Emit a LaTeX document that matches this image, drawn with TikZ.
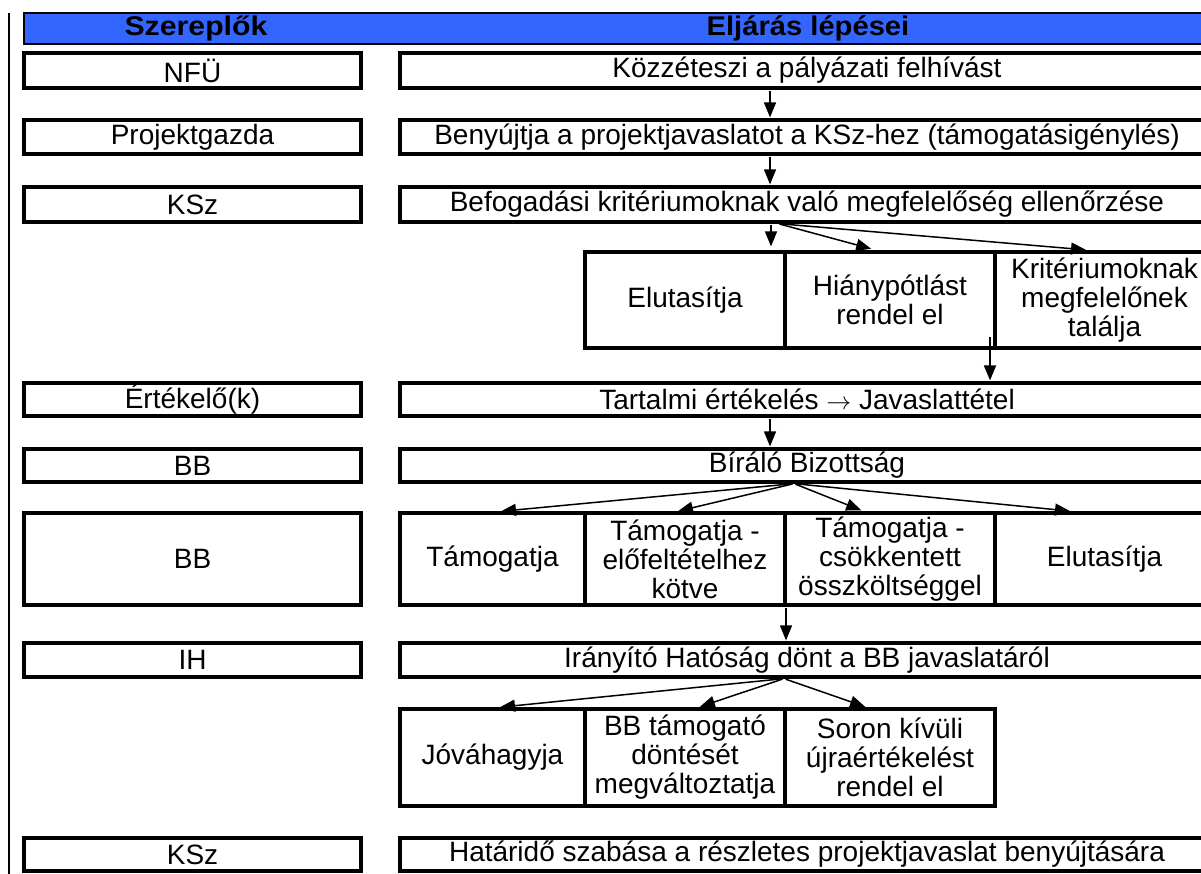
\documentclass[tikz,border=0pt]{standalone}
\usepackage{fontspec}
\setmainfont{Liberation Sans}
\usetikzlibrary{arrows.meta}
\definecolor{hdrblue}{RGB}{51,102,255}
\tikzset{
  bx/.style={draw=black, line width=3.2pt, fill=white, inner sep=0pt, align=center,
             font=\fontsize{28}{29}\selectfont},
  lbox/.style={bx, minimum width=337pt},
  rbox/.style={bx, minimum width=814pt},
  hdrtext/.style={inner sep=0pt, font=\fontsize{27}{28}\selectfont\bfseries},
  arr/.style={line width=1.5pt, -{Triangle[length=15pt,width=12pt]}},
}
\begin{document}
\begin{tikzpicture}[x=1pt,y=-1pt]
\useasboundingbox (0,0) rectangle (1201,873);
% left frame line
\draw[line width=2.2pt] (9,13) -- (9,880);
% header
\node[draw=black, line width=2.8pt, fill=hdrblue, minimum width=1190pt, minimum height=31pt, inner sep=0pt] (hdr) at (619,28.5) {};
\node[hdrtext] (h1) at (196,28.5) {\scalebox{1.12}[1]{Szereplők}};
\node[hdrtext] (h2) at (808,28.5) {\scalebox{1.08}[1]{Eljárás lépései}};
% left column
\node[lbox, minimum height=35pt] (l1) at (192.5,70.5) {NFÜ};
\node[lbox, minimum height=34pt] (l2) at (192.5,137) {Projektgazda};
\node[lbox, minimum height=35pt] (l3) at (192.5,204.5) {KSz};
\node[lbox, minimum height=33pt] (l4) at (192.5,399.5) {Értékelő(k)};
\node[lbox, minimum height=33pt] (l5) at (192.5,465.5) {BB};
\node[lbox, minimum height=92pt] (l6) at (192.5,559) {BB};
\node[lbox, minimum height=34pt] (l7) at (192.5,660) {IH};
\node[lbox, minimum height=33pt] (l8) at (192.5,854.5) {KSz};
% right column
\node[rbox, minimum height=35pt] (r1) at (807,70.5) {Közzéteszi a pályázati felhívást};
\node[rbox, minimum height=34pt] (r2) at (807,137) {Benyújtja a projektjavaslatot a KSz-hez (támogatásigénylés)};
\node[rbox, minimum height=35pt] (r3) at (807,204.5) {Befogadási kritériumoknak való megfelelőség ellenőrzése};
\node[bx, minimum width=200pt, minimum height=96pt] (s1) at (685,300) {Elutasítja};
\node[bx, minimum width=210pt, minimum height=96pt] (s2) at (890,300) {Hiánypótlást\\rendel el};
\node[bx, minimum width=219pt, minimum height=96pt] (s3) at (1104.5,300) {Kritériumoknak\\megfelelőnek\\találja};
\node[rbox, minimum height=33pt] (r4) at (807,399.5) {Tartalmi értékelés $\rightarrow$ Javaslattétel};
\node[rbox, minimum height=33pt] (r5) at (807,465.5) {Bíráló Bizottság};
\node[bx, minimum width=185pt, minimum height=92pt] (b1) at (492.5,559) {Támogatja};
\node[bx, minimum width=200pt, minimum height=92pt] (b2) at (685,559) {Támogatja -\\előfeltételhez\\kötve};
\node[bx, minimum width=210pt, minimum height=92pt] (b3) at (890,559) {Támogatja -\\csökkentett\\összköltséggel};
\node[bx, minimum width=219pt, minimum height=92pt] (b4) at (1104.5,559) {Elutasítja};
\node[rbox, minimum height=34pt] (r6) at (807,660) {Irányító Hatóság dönt a BB javaslatáról};
\node[bx, minimum width=185pt, minimum height=97pt] (i1) at (492.5,757.5) {Jóváhagyja};
\node[bx, minimum width=200pt, minimum height=97pt] (i2) at (685,757.5) {BB támogató\\döntését\\megváltoztatja};
\node[bx, minimum width=210pt, minimum height=97pt] (i3) at (890,757.5) {Soron kívüli\\újraértékelést\\rendel el};
\node[rbox, minimum height=33pt] (r7) at (807,854.5) {Határidő szabása a részletes projektjavaslat benyújtására};
% x positions for connectors
\coordinate (xa) at (770,0);
\coordinate (xk) at (771,0);
\coordinate (xko) at (778,0);
\coordinate (xk2) at (877,0);
\coordinate (xk3) at (1092,0);
\coordinate (xc) at (990,0);
\coordinate (xbo) at (794,0);
\coordinate (xb1) at (500,0);
\coordinate (xb2) at (677,0);
\coordinate (xb3) at (864,0);
\coordinate (xb4) at (1073,0);
\coordinate (xd) at (786,0);
\coordinate (xio) at (784,0);
\coordinate (xi1) at (498,0);
\coordinate (xi2) at (698,0);
\coordinate (xi3) at (867,0);
% connectors
\draw[arr, shorten <=1.6pt, shorten >=1pt] (r1.south -| xa) -- (r2.north -| xa);
\draw[arr, shorten <=1.6pt, shorten >=1pt] (r2.south -| xa) -- (r3.north -| xa);
\draw[arr, shorten <=1.6pt, shorten >=4pt] (r3.south -| xk) -- (s1.north -| xk);
\draw[arr, shorten <=1.6pt, shorten >=6pt] (r3.south -| xko) -- (s2.north -| xk2);
\draw[arr, shorten <=1.6pt, shorten >=6pt] (r3.south -| xko) -- (s3.north -| xk3);
\draw[arr, line width=1.8pt, shorten <=-13pt, shorten >=1pt] (s3.south -| xc) -- (r4.north -| xc);
\draw[arr, shorten <=1.6pt, shorten >=1pt] (r4.south -| xa) -- (r5.north -| xa);
\draw[arr, shorten <=1.6pt, shorten >=1pt] (r5.south -| xbo) -- (b1.north -| xb1);
\draw[arr, shorten <=1.6pt, shorten >=1pt] (r5.south -| xbo) -- (b2.north -| xb2);
\draw[arr, shorten <=1.6pt, shorten >=3pt] (r5.south -| xbo) -- (b3.north -| xb3);
\draw[arr, shorten <=1.6pt, shorten >=3pt] (r5.south -| xbo) -- (b4.north -| xb4);
\draw[arr, shorten <=1.6pt, shorten >=1pt] (b3.south -| xd) -- (r6.north -| xd);
\draw[arr, shorten <=1.6pt, shorten >=2pt] (r6.south -| xio) -- (i1.north -| xi1);
\draw[arr, shorten <=1.6pt, shorten >=2pt] (r6.south -| xio) -- (i2.north -| xi2);
\draw[arr, shorten <=1.6pt, shorten >=2pt] (r6.south -| xio) -- (i3.north -| xi3);
\end{tikzpicture}
\end{document}
